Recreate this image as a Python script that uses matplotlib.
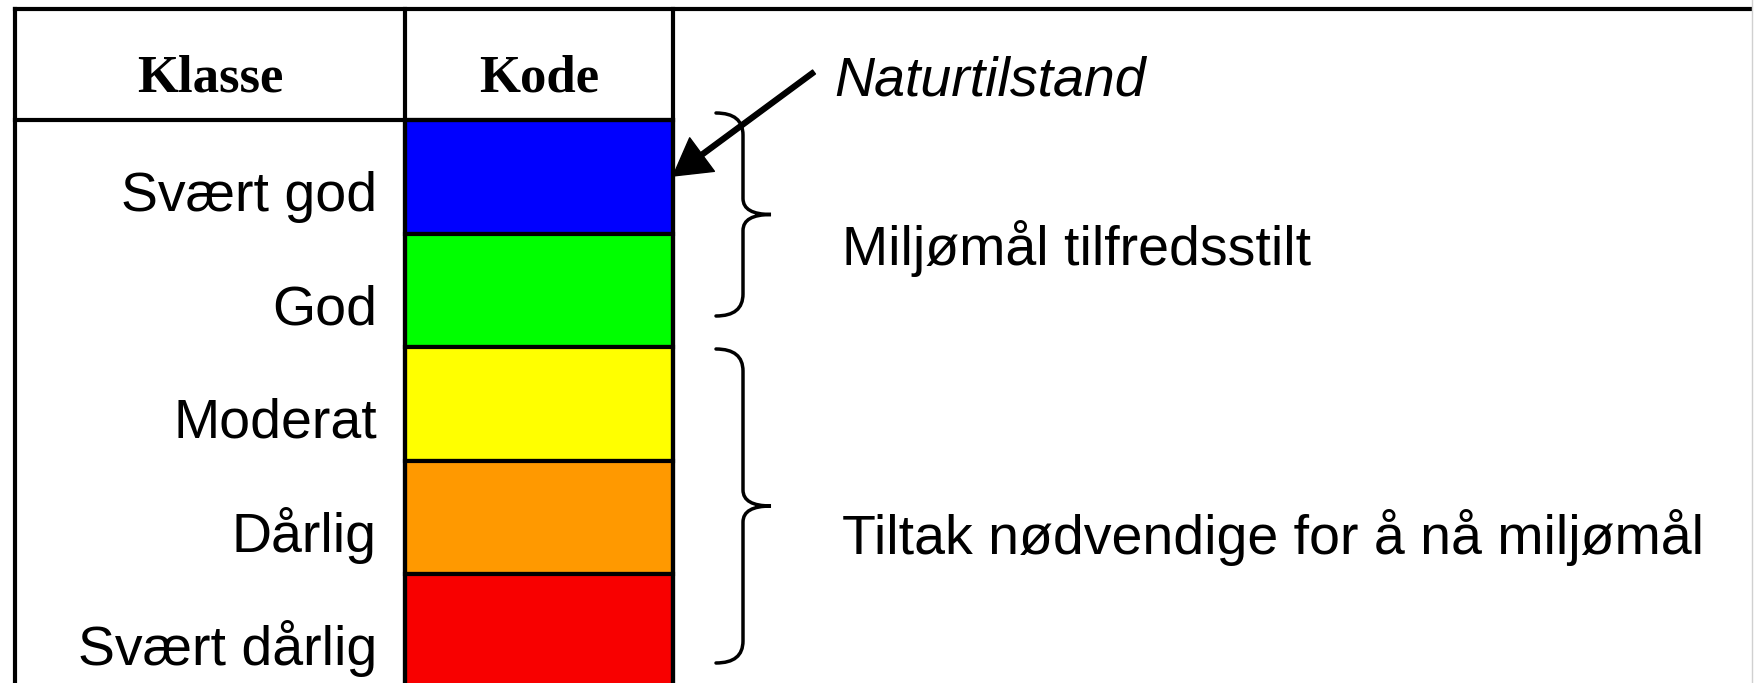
import matplotlib.pyplot as plt
from matplotlib.path import Path
from matplotlib.patches import PathPatch

# data
overskrifter = ["Klasse", "Kode"]
klasser = ["Svært god", "God", "Moderat", "Dårlig", "Svært dårlig"]
farger = ["#0000FF", "#00FF00", "#FFFF00", "#FF9900", "#F80000"]
naturtilstand = "Naturtilstand"
grupper = ["Miljømål tilfredsstilt", "Tiltak nødvendige for å nå miljømål"]

W, H = 1756, 683
fig = plt.figure(figsize=(W / 100, H / 100), dpi=100)
ax = fig.add_axes([0, 0, 1, 1])
ax.set_xlim(0, W)
ax.set_ylim(H, 0)
ax.axis("off")

sans = "Liberation Sans"
serif = "Liberation Serif"

# table frame
x_left, x_mid, x_kode, x_right = 15, 405, 673, 1750
y_top, y_head = 9, 120
band_h = 113.6
lw = 3

ax.plot([x_left, x_right], [y_top, y_top], color="black", lw=lw, solid_capstyle="projecting")
ax.plot([x_left, x_left], [y_top, H + 5], color="black", lw=lw)
ax.plot([x_left, x_kode], [y_head, y_head], color="black", lw=lw)
ax.plot([x_mid, x_mid], [y_top, H + 5], color="black", lw=lw)
ax.plot([x_kode, x_kode], [y_top, H + 5], color="black", lw=lw)
ax.plot([1752, 1752], [0, H], color="#d0d0d0", lw=1)

# colour bands
pos = [y_head + (i + 0.5) * band_h for i in range(len(klasser))]
ax.barh(pos, x_kode - x_mid, height=band_h, left=x_mid, color=farger,
        edgecolor="black", linewidth=lw)

# header text
ax.text((x_left + x_mid) / 2, 92, overskrifter[0], ha="center", va="baseline",
        fontsize=38, fontweight="bold", family=serif)
ax.text((x_mid + x_kode) / 2, 92, overskrifter[1], ha="center", va="baseline",
        fontsize=38, fontweight="bold", family=serif)

# row labels
for p, k in zip(pos, klasser):
    ax.text(377, p + 34, k, ha="right", va="baseline", fontsize=40, family=sans)

# arrow to top of scale
ax.annotate("", xy=(673, 176), xytext=(814, 72),
            arrowprops=dict(facecolor="black", edgecolor="black", width=3.5,
                            headwidth=30, headlength=26, shrink=0))
ax.text(834, 95, naturtilstand, ha="left", va="baseline", fontsize=40,
        style="italic", family=sans)


def brace(top, bottom, x_end=716, x_spine=743, x_tip=771, r=22, rt=16):
    mid = (top + bottom) / 2
    verts = [(x_end, top), (x_spine, top), (x_spine, top + r),
             (x_spine, mid - rt), (x_spine, mid), (x_tip, mid),
             (x_spine, mid), (x_spine, mid + rt),
             (x_spine, bottom - r), (x_spine, bottom), (x_end, bottom)]
    codes = [Path.MOVETO, Path.CURVE3, Path.CURVE3,
             Path.LINETO, Path.CURVE3, Path.CURVE3,
             Path.CURVE3, Path.CURVE3,
             Path.LINETO, Path.CURVE3, Path.CURVE3]
    ax.add_patch(PathPatch(Path(verts, codes), fill=False, lw=2.5,
                           edgecolor="black", capstyle="round"))


brace(113, 316)
brace(349, 663)

ax.text(842, 265, grupper[0], ha="left", va="baseline", fontsize=40, family=sans)
ax.text(842, 554, grupper[1], ha="left", va="baseline", fontsize=40, family=sans)

plt.savefig("out.png", dpi=100)
